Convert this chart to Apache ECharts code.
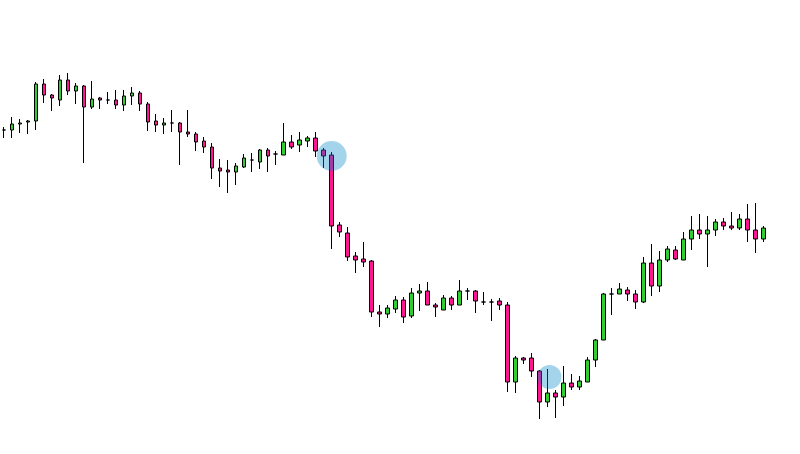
<!DOCTYPE html>
<html>
<head>
<meta charset="utf-8">
<style>
  html, body { margin: 0; padding: 0; background: #ffffff; }
  #chart { width: 800px; height: 454px; }
</style>
<script src="https://cdn.jsdelivr.net/npm/echarts@6/dist/echarts.min.js"></script>
</head>
<body>
<div id="chart"></div>
<script>
// Candle values (open, close, high, low)
const opens  = [324,324,330,332,333,370,359,354,374,363,368,347,356,354,354,349,358,361,350,333,
                329,331,331,322,320,313,307,286,284,282,287,294,292,304,300,299,312,309,313,316,
                304,299,229,221,198,195,193,142,140,145,154,138,161,163,149,144,156,149,163,163,
                152,152,153,149,72,96,96,83,52,61,57,71,67,72,94,114,160,160,164,160,
                152,191,168,194,204,194,215,224,220,224,232,228,226,235,224,215];
const closes = [324,330,331,333,370,359,356,374,363,368,347,355,354,354,349,358,361,350,332,329,
                331,331,322,320,312,307,286,283,282,288,296,294,304,298,300,312,307,314,316,303,
                298,228,222,197,194,192,142,140,146,154,137,161,163,149,147,156,149,163,163,153,
                152,152,149,72,96,94,83,52,61,57,71,67,73,94,114,160,160,165,160,152,
                191,168,194,205,195,215,224,220,224,232,228,226,235,224,215,226];
const highs  = [327,337,335,334,372,375,360,379,381,371,369,373,357,362,364,364,367,363,352,340,
                336,344,332,344,322,317,311,295,294,291,300,301,305,306,303,331,319,322,318,322,
                306,302,232,227,202,212,194,149,149,158,157,166,170,172,151,159,158,174,166,164,
                162,155,156,152,98,97,101,84,85,64,88,80,78,97,115,161,166,171,167,164,
                197,210,203,208,208,222,238,240,238,235,236,242,240,250,251,228];
const lows   = [316,316,321,320,324,351,343,348,359,350,291,345,345,350,345,343,349,343,323,322,
                320,322,289,317,303,301,275,267,261,269,286,282,285,282,289,299,305,302,307,297,
                286,205,217,193,181,187,137,127,136,141,131,136,143,149,137,144,144,149,154,141,
                149,133,144,62,61,90,77,35,47,36,48,64,64,72,87,114,139,160,153,145,
                151,158,162,192,194,194,204,215,187,218,224,224,224,212,201,212];

// Highlight circles: [candle index, value, size, x offset]
const highlights = [[41, 298, 30, 0], [68, 77, 24, 2]];

const categories = opens.map((_, i) => String(i + 1));
const candleData = opens.map((o, i) => [o, closes[i], lows[i], highs[i]]);

const chart = echarts.init(document.getElementById('chart'), null, { renderer: 'canvas' });
chart.setOption({
  backgroundColor: '#ffffff',
  animation: false,
  grid: { left: -0.7, top: 0, width: 768, height: 454, containLabel: false },
  xAxis: {
    type: 'category',
    data: categories,
    show: false,
    boundaryGap: true
  },
  yAxis: {
    type: 'value',
    min: 0,
    max: 454,
    show: false
  },
  series: [
    {
      type: 'candlestick',
      data: candleData,
      barWidth: 4,
      z: 2,
      itemStyle: {
        color: '#32cd32',
        color0: '#ff1493',
        borderColor: '#000000',
        borderColor0: '#000000',
        borderColorDoji: '#000000',
        borderWidth: 1
      }
    },
    {
      type: 'scatter',
      z: 5,
      data: highlights.map(h => ({
        value: [h[0], h[1]],
        symbolSize: h[2],
        symbolOffset: [h[3], 0]
      })),
      symbol: 'circle',
      itemStyle: { color: 'rgba(0,135,200,0.45)' }
    }
  ]
});
</script>
</body>
</html>
